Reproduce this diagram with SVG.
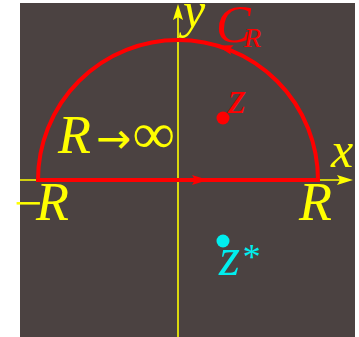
<svg xmlns="http://www.w3.org/2000/svg" xmlns:xlink="http://www.w3.org/1999/xlink" width="359" height="337" viewBox="0 0 359 337">
<style>
.t{font-family:"Liberation Serif","Times New Roman",serif;font-style:italic;}
.yl{fill:#ffff00;}
.rd{fill:#ff0000;}
.cy{fill:#00eeee;}
.axis{stroke:#ffff00;stroke-width:1.6;fill:none;}
.contour{stroke:#ff0000;stroke-width:4;fill:none;stroke-linejoin:miter;}
</style>
<defs>
<path id="ah" d="M0,0 L-16,-5 L-13,0 L-16,5 Z"/>
</defs>
<rect x="0" y="0" width="359" height="337" fill="#ffffff"/>
<rect x="20" y="3" width="335" height="334" fill="#4b4241"/>
<g id="connectors">
<g id="x-axis">
<line class="axis" x1="20" y1="180" x2="340" y2="180"/>
<use xlink:href="#ah" class="yl" transform="translate(353,180)"/>
</g>
<g id="y-axis">
<line class="axis" x1="178" y1="337" x2="178" y2="15"/>
<use xlink:href="#ah" class="yl" transform="translate(178,4) rotate(-90)"/>
</g>
<g id="contour">
<path class="contour" d="M38,180 A140,140 0 0 1 318,180 Z"/>
<use xlink:href="#ah" class="rd" transform="translate(208,180)"/>
<use xlink:href="#ah" class="rd" transform="translate(217,45.6) rotate(196.2)"/>
</g>
</g>
<g id="label-y"><text class="t yl" x="183" y="27" font-size="50">y</text></g>
<g id="label-x"><text class="t yl" x="331" y="167" font-size="50">x</text></g>
<g id="label-CR"><text class="t rd" x="216" y="42" font-size="52">C<tspan x="244" y="47" font-size="28">R</tspan></text></g>
<g id="point-z">
<circle class="rd" cx="223" cy="118" r="6.5"/>
<text class="t rd" x="228" y="113" font-size="46">z</text>
</g>
<g id="point-zstar">
<circle class="cy" cx="223" cy="241" r="6.5"/>
<text class="t cy" x="219" y="275" font-size="54">z<tspan x="241" y="269" font-size="36">*</tspan></text>
</g>
<g id="label-limit">
<text class="t yl" font-size="54" x="58" y="153">R</text>
<text class="yl" font-family="DejaVu Sans, sans-serif" font-size="42" x="96" y="153">→</text>
<text class="t yl" font-size="58" x="133" y="153">∞</text>
</g>
<g id="label-minusR">
<text class="yl" font-family="Liberation Serif, serif" font-size="50" x="14" y="220">−</text>
<text class="t yl" font-size="54" x="36" y="220">R</text>
</g>
<g id="label-R"><text class="t yl" x="299" y="220" font-size="54">R</text></g>
</svg>
